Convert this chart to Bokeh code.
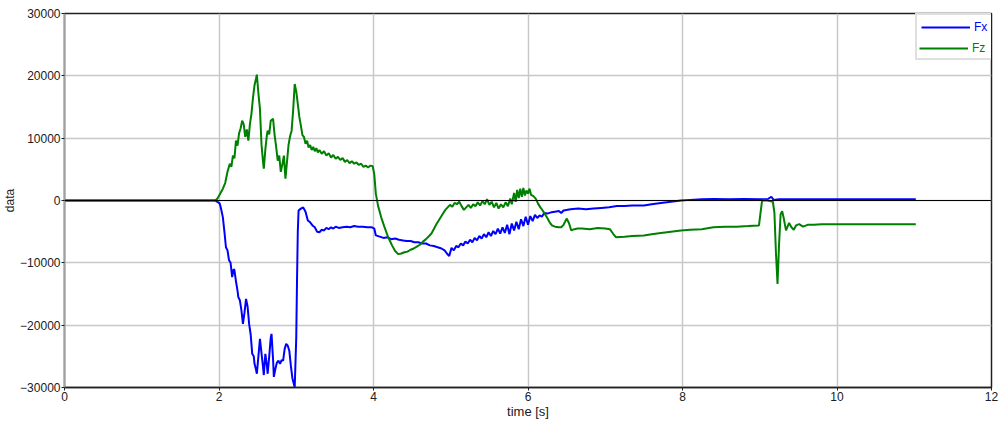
from bokeh.plotting import figure
from bokeh.models import Legend, LegendItem, Span, FixedTicker
from bokeh.embed import file_html
from bokeh.resources import INLINE

# ---------------- data ----------------
fx_t = [0, 1.9, 1.95, 1.98, 2.01, 2.03, 2.05, 2.07, 2.09, 2.11, 2.13, 2.15, 2.17, 2.19, 2.20, 2.22,
        2.24, 2.25, 2.27, 2.29, 2.31, 2.33, 2.35, 2.37, 2.39, 2.41, 2.42, 2.43, 2.45, 2.46, 2.48,
        2.49, 2.51, 2.53, 2.55, 2.57, 2.58, 2.60, 2.62, 2.63, 2.65, 2.67, 2.68, 2.70, 2.71, 2.73,
        2.75, 2.77, 2.79, 2.81, 2.83, 2.85, 2.87, 2.89, 2.91, 2.93, 2.95, 2.97, 2.98, 3.00, 3.01,
        3.02, 3.03, 3.06, 3.09, 3.12, 3.15, 3.18, 3.21, 3.24, 3.27, 3.30, 3.33, 3.36, 3.39, 3.42,
        3.45, 3.48, 3.51, 3.55, 3.60, 3.65, 3.70, 3.75, 3.80, 3.86, 3.92, 3.98, 4.01, 4.03, 4.08,
        4.13, 4.18, 4.23, 4.28, 4.33, 4.38, 4.43, 4.48, 4.53, 4.58, 4.63, 4.68, 4.73, 4.78, 4.83,
        4.88, 4.92, 4.95, 4.98, 5.01, 5.04, 5.07, 5.10, 5.13, 5.16, 5.19, 5.22, 5.25, 5.28, 5.31,
        5.34, 5.37, 5.40, 5.43, 5.46, 5.49, 5.52, 5.55, 5.58, 5.61, 5.64, 5.67, 5.70, 5.73, 5.76,
        5.79, 5.82, 5.85, 5.88, 5.91, 5.94, 5.97, 6.00, 6.03, 6.06, 6.09, 6.12, 6.15, 6.18, 6.21,
        6.25, 6.30, 6.35, 6.40, 6.43, 6.46, 6.55, 6.65, 6.75, 6.85, 6.95, 7.05, 7.15, 7.25, 7.35,
        7.50, 7.60, 7.72, 7.85, 7.98, 8.10, 8.25, 8.40, 8.60, 8.80, 9.00, 9.10, 9.15, 9.18, 9.25,
        9.50, 9.80, 10.1, 10.4, 10.7, 11.02]
fx = [0, 0, 0, -200, -500, -1500, -2700, -5000, -7500, -8000, -9600, -10000, -12300, -11000,
      -11200, -13000, -14500, -15500, -16000, -17600, -19800, -18000, -15800, -17000, -19800,
      -21500, -23000, -24600, -25000, -26200, -27200, -27800, -25000, -22200, -24500, -26700,
      -28000, -24600, -26500, -27800, -25000, -22000, -21400, -25500, -28300, -27000, -26000,
      -25700, -26200, -25600, -25700, -23800, -23000, -23300, -24100, -26500, -28500, -29500,
      -30000, -22000, -12800, -5000, -1600, -1300, -1100, -1800, -3200, -3500, -4000, -4300,
      -5000, -5100, -4700, -4800, -4400, -4600, -4300, -4500, -4200, -4400, -4300, -4200, -4300,
      -4100, -4200, -4200, -4300, -4300, -4500, -5600, -5800, -6000, -5900, -6200, -6100, -6300,
      -6400, -6500, -6500, -6700, -6700, -6900, -6900, -7200, -7300, -7500, -7700, -8000, -8500,
      -8900, -7600, -8000, -7300, -7500, -6900, -7200, -6600, -6900, -6300, -6700, -6000, -6400,
      -5700, -6100, -5400, -5900, -5100, -5700, -4900, -5400, -4500, -5300, -4300, -5200, -3900,
      -5400, -3700, -4800, -3400, -4600, -3000, -4100, -2600, -3900, -2500, -3300, -2300, -2800,
      -2400, -2600, -2000, -2100, -1900, -1800, -1700, -2000, -1600, -1400, -1300, -1400, -1300,
      -1200, -1100, -900, -900, -800, -800, -600, -400, -200, 0, 100, 200, 250, 200, 250, 200,
      200, 600, 100, 200, 200, 200, 200, 200, 200, 200]

fz_t = [0, 1.9, 1.95, 1.98, 2.02, 2.05, 2.08, 2.11, 2.14, 2.16, 2.18, 2.20, 2.22, 2.24, 2.26,
        2.28, 2.30, 2.32, 2.34, 2.36, 2.38, 2.40, 2.42, 2.44, 2.46, 2.48, 2.49, 2.51, 2.53, 2.55,
        2.57, 2.58, 2.60, 2.62, 2.63, 2.65, 2.67, 2.70, 2.72, 2.74, 2.76, 2.78, 2.80, 2.82, 2.84,
        2.86, 2.88, 2.90, 2.92, 2.94, 2.96, 2.98, 3.00, 3.02, 3.04, 3.06, 3.08, 3.10, 3.12, 3.14,
        3.16, 3.18, 3.20, 3.22, 3.24, 3.26, 3.28, 3.30, 3.33, 3.36, 3.39, 3.42, 3.45, 3.48, 3.51,
        3.54, 3.57, 3.60, 3.63, 3.66, 3.69, 3.72, 3.75, 3.78, 3.81, 3.84, 3.87, 3.90, 3.93, 3.96,
        3.99, 4.01, 4.03, 4.06, 4.10, 4.14, 4.19, 4.24, 4.28, 4.32, 4.36, 4.40, 4.44, 4.48, 4.52,
        4.56, 4.60, 4.64, 4.68, 4.72, 4.75, 4.78, 4.81, 4.84, 4.87, 4.90, 4.93, 4.96, 4.99, 5.02,
        5.05, 5.08, 5.11, 5.14, 5.17, 5.20, 5.23, 5.26, 5.29, 5.32, 5.35, 5.38, 5.41, 5.44, 5.47,
        5.50, 5.53, 5.56, 5.59, 5.62, 5.65, 5.68, 5.71, 5.74, 5.77, 5.79, 5.82, 5.84, 5.86, 5.88,
        5.90, 5.92, 5.94, 5.96, 5.98, 6.00, 6.02, 6.04, 6.07, 6.10, 6.13, 6.16, 6.19, 6.22, 6.25,
        6.28, 6.31, 6.35, 6.40, 6.43, 6.46, 6.50, 6.53, 6.56, 6.60, 6.64, 6.70, 6.80, 6.90, 7.00,
        7.06, 7.10, 7.14, 7.25, 7.35, 7.50, 7.60, 7.72, 7.85, 7.98, 8.10, 8.25, 8.40, 8.55, 8.70,
        8.85, 8.99, 9.01, 9.03, 9.10, 9.17, 9.19, 9.21, 9.23, 9.25, 9.27, 9.29, 9.31, 9.34, 9.36,
        9.38, 9.41, 9.44, 9.47, 9.51, 9.56, 9.62, 9.70, 9.80, 10.0, 10.3, 10.6, 11.02]
fz = [0, 0, 0, 300, 1200, 1900, 2800, 4600, 5900, 5400, 7200, 6800, 9600, 8800, 10800, 11600,
      12800, 12200, 10200, 11400, 9600, 12200, 13900, 16500, 18500, 19600, 20200, 17200, 14700,
      9000, 6200, 5100, 8200, 10500, 11200, 10600, 12800, 13100, 10500, 8600, 6400, 7200, 4600,
      5800, 7200, 3500, 6200, 8900, 10300, 11200, 14500, 18700, 17500, 15500, 13400, 12000,
      10500, 10200, 9100, 9600, 8500, 8900, 8100, 8600, 7900, 8400, 7700, 8100, 7500, 7900, 7200,
      7600, 6900, 7300, 6700, 7000, 6500, 6800, 6200, 6500, 6000, 6300, 5900, 6100, 5700, 5900,
      5400, 5600, 5300, 5600, 5500, 4200, 1100, -900, -2700, -4200, -5900, -7200, -8100, -8600,
      -8500, -8300, -8200, -7900, -7700, -7400, -7100, -6600, -6200, -5700, -5300, -4600, -3900,
      -3300, -2700, -2100, -1500, -1100, -700, -1000, -400, -600, -200, -900, -1500, -1100, -700,
      -1200, -600, -900, -300, -800, -100, -600, 200, -700, -200, -1100, -400, -1300, -600, -1100,
      -300, -900, 300, -600, 1200, -200, 1700, 400, 1900, 600, 2000, 800, 1600, 1100, 1900, 900,
      700, 300, -500, -1100, -1600, -2200, -2800, -3500, -4000, -4200, -4300, -4300, -3900, -2900,
      -3600, -4800, -4600, -4500, -4500, -4600, -4400, -4500, -4600, -5300, -5900, -5800, -5700,
      -5600, -5400, -5200, -5000, -4800, -4700, -4600, -4300, -4200, -4200, -4100, -4000, -2000,
      0, 0, -200, -2000, -8500, -13400, -7000, -2200, -1700, -2800, -4800, -4200, -3600, -4300,
      -4700, -4000, -3800, -4200, -3900, -3900, -3800, -3800, -3800, -3800, -3800]

series_names = ["Fx", "Fz"]
x_ticks = [0, 2, 4, 6, 8, 10, 12]
y_ticks = [-30000, -20000, -10000, 0, 10000, 20000, 30000]

# ---------------- styling ----------------
BLUE = "#0000ff"
GREEN = "#008000"
FONT = "Liberation Sans"

p = figure(width=1002, height=424, x_range=(0, 12), y_range=(-30000, 30000),
           output_backend="svg", toolbar_location=None,
           min_border_left=60, min_border_right=11, min_border_top=13, min_border_bottom=37)

p.background_fill_color = "white"
p.border_fill_color = "white"
p.outline_line_color = "#202020"
p.outline_line_width = 1.5

p.xgrid.grid_line_color = "#c8c8c8"
p.ygrid.grid_line_color = "#c8c8c8"
p.xgrid.grid_line_width = 1.5
p.ygrid.grid_line_width = 1.5

p.xaxis.ticker = FixedTicker(ticks=x_ticks)
p.yaxis.ticker = FixedTicker(ticks=y_ticks)
for ax in (p.xaxis[0], p.yaxis[0]):
    ax.major_label_text_font = FONT
    ax.major_label_text_font_size = "12px"
    ax.major_label_text_color = "#202020"
    ax.axis_label_text_font = FONT
    ax.axis_label_text_font_size = "13px"
    ax.axis_label_text_font_style = "normal"
    ax.axis_label_text_color = "#202020"
    ax.minor_tick_line_color = None
    ax.major_tick_in = 0
    ax.major_tick_out = 3
    ax.major_tick_line_color = "#202020"
    ax.major_label_standoff = 1
    ax.axis_label_standoff = 0

p.yaxis.axis_label_text_font_size = "12px"
p.xaxis.axis_label = "time [s]"
p.yaxis.axis_label = "data"
p.xaxis.axis_line_color = "#202020"
p.xaxis.axis_line_width = 1.5
p.yaxis.axis_line_color = "#a0a0a0"
p.yaxis.axis_line_width = 1.5

zero = Span(location=0, dimension="width", line_color="black", line_width=1.2)
p.add_layout(zero)

r_fx = p.line(fx_t, fx, line_color=BLUE, line_width=2)
r_fz = p.line(fz_t, fz, line_color=GREEN, line_width=2)

# legend box with both entries (location = bottom-left corner, px from frame bottom-left)
pad, row_h, gap, gw = 4, 16, 3, 49
leg_x, leg_y = 851, 327
legA = Legend(items=[LegendItem(label=series_names[0], renderers=[r_fx]),
                     LegendItem(label=series_names[1], renderers=[r_fz])],
              location=(leg_x, leg_y), padding=pad, spacing=gap,
              glyph_width=gw, glyph_height=row_h, label_height=row_h,
              label_standoff=4, label_text_font=FONT, label_text_font_size="12px",
              label_text_color=BLUE, border_line_color="#c0c0c0", border_line_width=2,
              background_fill_color="white", background_fill_alpha=1.0, margin=0)
p.add_layout(legA)
# overlay second entry so its label is green
legB = Legend(items=[LegendItem(label=series_names[1], renderers=[r_fz])],
              location=(leg_x + pad, leg_y + pad), padding=0, spacing=0,
              glyph_width=gw, glyph_height=row_h, label_height=row_h,
              label_standoff=4, label_text_font=FONT, label_text_font_size="12px",
              label_text_color=GREEN, border_line_color=None,
              background_fill_color="white", background_fill_alpha=1.0, margin=0)
p.add_layout(legB)

open("out.html", "w").write(file_html(p, INLINE))
